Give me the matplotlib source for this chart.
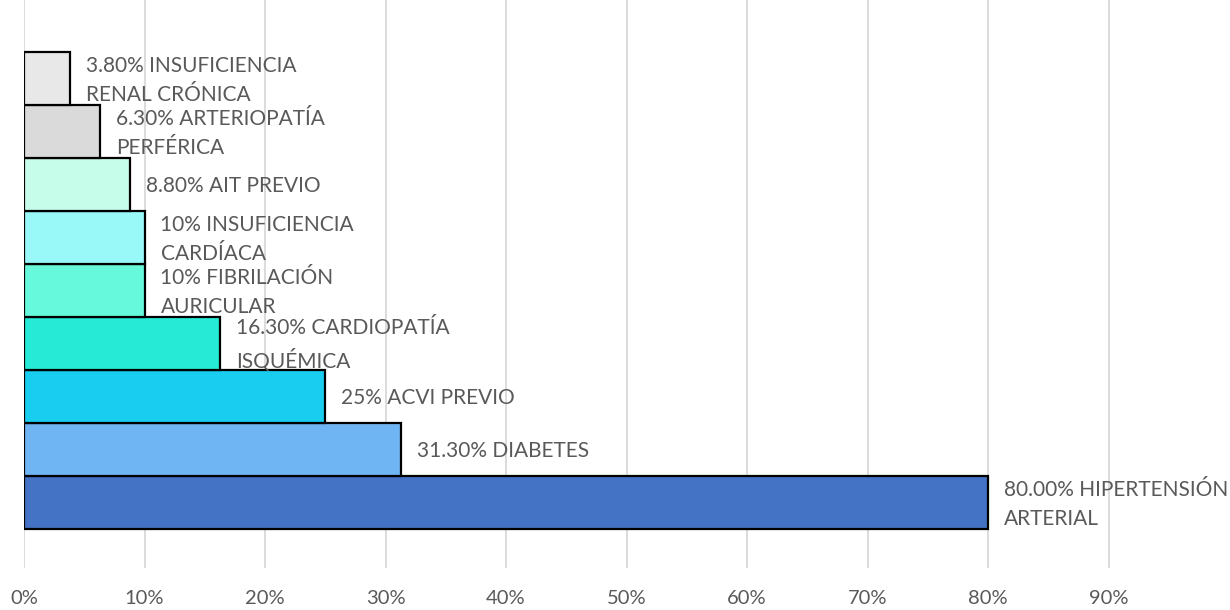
import numpy as np
import matplotlib
matplotlib.use("Agg")
import matplotlib.pyplot as plt
from matplotlib.ticker import FuncFormatter

plt.rcParams["font.family"] = ["Lato", "DejaVu Sans"]

# Comorbidities, bottom to top
categories = [
    "HIPERTENSIÓN\nARTERIAL",
    "DIABETES",
    "ACVI PREVIO",
    "CARDIOPATÍA\nISQUÉMICA",
    "FIBRILACIÓN\nAURICULAR",
    "INSUFICIENCIA\nCARDÍACA",
    "AIT PREVIO",
    "ARTERIOPATÍA\nPERFÉRICA",
    "INSUFICIENCIA\nRENAL CRÓNICA",
]
values = [80.0, 31.3, 25.0, 16.3, 10.0, 10.0, 8.8, 6.3, 3.8]
value_text = ["80.00%", "31.30%", "25%", "16.30%", "10%", "10%", "8.80%", "6.30%", "3.80%"]
bar_colors = ["#4472C4", "#70B5F3", "#18CDF0", "#26E9D6", "#67F9DB",
              "#99F8F8", "#C6FCEA", "#DADADA", "#E8E8E8"]
xticks = [0, 10, 20, 30, 40, 50, 60, 70, 80, 90]

fig = plt.figure(figsize=(12.3, 6.1), dpi=100)
ax = fig.add_axes([24 / 1230, 42 / 610, 1205 / 1230, 568 / 610])

y = np.arange(len(values))
ax.barh(y, values, height=1.0, color=bar_colors, edgecolor="black", linewidth=1.6, zorder=3)

for yi, v, vt, cat in zip(y, values, value_text, categories):
    first, *rest = cat.split("\n")
    label = f"{vt} {first}" + ("".join("\n" + r for r in rest))
    ax.annotate(label, xy=(v, yi), xytext=(16, -2), textcoords="offset pixels",
                va="center", ha="left", fontsize=15, color="#595959",
                linespacing=1.58, zorder=4)

ax.set_xlim(0, 100)
ax.set_ylim(-1.236, 9.48)
ax.set_xticks(xticks)
ax.xaxis.set_major_formatter(FuncFormatter(lambda x, _: f"{x:.0f}%"))
ax.set_yticks([])
ax.tick_params(axis="x", length=0, pad=16, labelsize=14.5, labelcolor="#595959")
ax.grid(axis="x", color="#D9D9D9", linewidth=1.3, zorder=0)
for s in ax.spines.values():
    s.set_visible(False)

fig.savefig("out.png", dpi=100)
